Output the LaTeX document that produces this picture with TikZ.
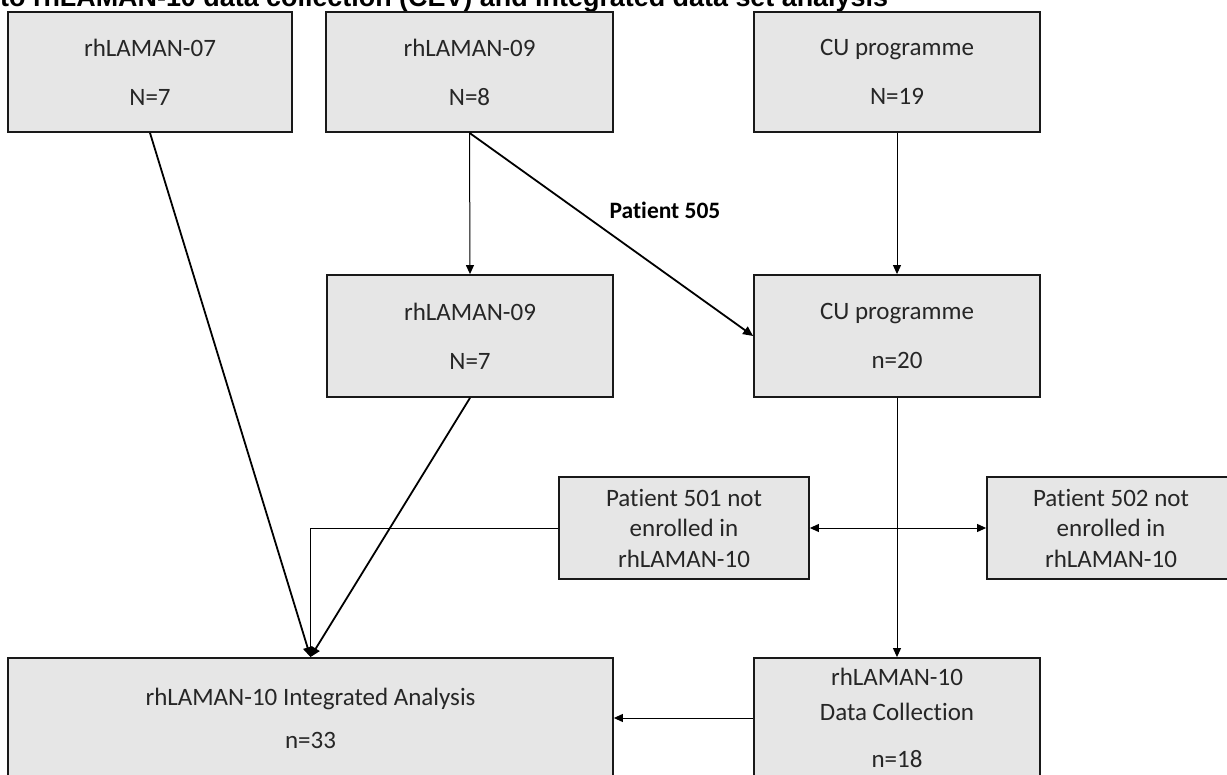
\documentclass[tikz,border=0pt]{standalone}
\usepackage{fontspec}
\setmainfont{Carlito}[Ligatures=NoCommon]
\newfontfamily\titlefont{Liberation Sans}
\usetikzlibrary{arrows.meta}
\definecolor{boxgray}{RGB}{230,230,230}
\begin{document}
\begin{tikzpicture}[x=1pt,y=-1pt,
  box/.style={draw=black!90, line width=1.8pt, fill=boxgray, inner sep=0pt, align=center,
    font=\fontsize{25}{30.5}\selectfont, text=black!85},
  thinarrow/.style={line width=1pt, -{Triangle[length=9pt,width=8pt]}},
  thickarrow/.style={line width=1.8pt, -{Triangle[length=10pt,width=9pt]}},
  both/.style={line width=1pt, {Triangle[length=9pt,width=8pt]}-{Triangle[length=9pt,width=8pt]}},
]
\useasboundingbox (0,0) rectangle (1227,775);
\node[anchor=base west, inner sep=0pt, font=\titlefont\bfseries\fontsize{26.9}{30}\selectfont] (title) at (0,7)
  {to rhLAMAN-10 data collection (CEV) and integrated data set analysis};

\node[box, minimum width=284pt, minimum height=120pt] (A) at (150,72) {rhLAMAN-07\\[18.5pt]N=7};
\node[box, minimum width=287pt, minimum height=120pt] (B) at (469.5,72) {rhLAMAN-09\\[18.5pt]N=8};
\node[box, minimum width=286pt, minimum height=120pt] (C) at (897,72) {CU programme\\[18.5pt]N=19};
\node[box, minimum width=286pt, minimum height=122pt] (D) at (470,336) {rhLAMAN-09\\[18.5pt]N=7};
\node[box, minimum width=286pt, minimum height=122pt] (E) at (897,336) {CU programme\\[18.5pt]n=20};
\node[box, minimum width=250pt, minimum height=102pt] (F) at (684,528) {Patient 501 not\\enrolled in\\rhLAMAN-10};
\node[box, minimum width=248pt, minimum height=102pt] (G) at (1111,528) {Patient 502 not\\enrolled in\\rhLAMAN-10};
\node[box, minimum width=605pt, minimum height=120pt] (H) at (310.5,718) {rhLAMAN-10 Integrated Analysis\\[12.5pt]n=33};
\node[box, minimum width=286pt, minimum height=120pt] (I) at (897,718) {rhLAMAN-10\\[4.5pt]Data Collection\\[16pt]n=18};

\node[font=\bfseries\fontsize{23.5}{28}\selectfont, inner sep=0pt] (p505) at (665,210) {Patient 505};

\draw[thickarrow] (A.south) -- (H.north);
\draw[thinarrow] (B.south) -- (D.north);
\draw[thickarrow] (B.south) -- (E.west);
\draw[thinarrow] (C.south) -- (E.north);
\draw[thinarrow] (E.south) -- (I.north);
\draw[thickarrow] (D.south) -- (H.north);
\draw[thinarrow] (F.west) -| (H.north);
\draw[both] (F.east) -- (G.west);
\draw[thinarrow] (I.west) -- (H.east);
\end{tikzpicture}
\end{document}
